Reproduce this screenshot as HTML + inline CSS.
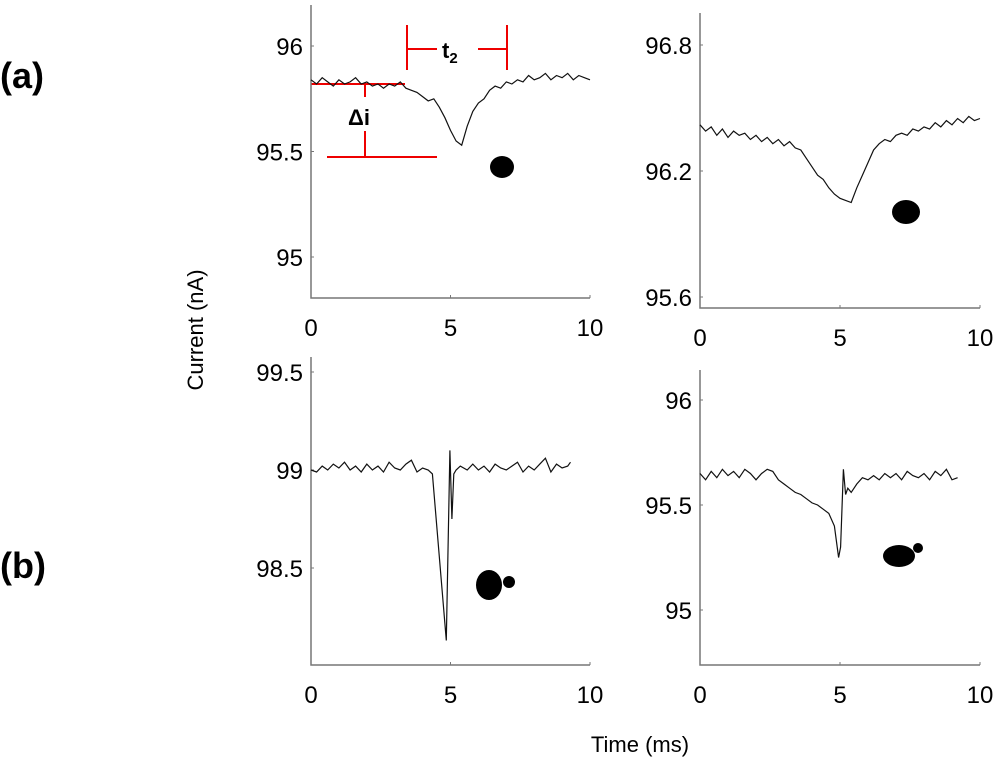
<!DOCTYPE html>
<html><head><meta charset="utf-8"><style>
body{margin:0;background:#fff}
svg{display:block;font-family:"Liberation Sans",sans-serif}
</style></head><body>
<svg id="fig" width="1000" height="774" viewBox="0 0 1000 774">
<text x="0" y="88" font-size="36" font-weight="bold">(a)</text>
<text x="0" y="578" font-size="36" font-weight="bold">(b)</text>
<text transform="translate(203,330) rotate(-90)" text-anchor="middle" font-size="22">Current (nA)</text>
<text x="640" y="752" text-anchor="middle" font-size="22">Time (ms)</text>
<g stroke="#e00" stroke-width="2">
<line x1="311" y1="84" x2="405" y2="84"/>
<line x1="365" y1="84" x2="365" y2="97"/>
<line x1="365" y1="131" x2="365" y2="157"/>
<line x1="327" y1="157" x2="437" y2="157"/>
<line x1="407" y1="25" x2="407" y2="70"/>
<line x1="507" y1="25" x2="507" y2="70"/>
<line x1="407" y1="49" x2="437" y2="49"/>
<line x1="478" y1="49" x2="507" y2="49"/>
</g>
<text x="348" y="125" font-size="22" font-weight="bold">Δi</text>
<text x="442" y="58" font-size="22" font-weight="bold">t<tspan font-size="15" dy="5">2</tspan></text>
<g fill="#000">
<ellipse cx="502" cy="167" rx="12" ry="11"/>
<ellipse cx="906" cy="212" rx="14" ry="12"/>
<ellipse cx="489" cy="585" rx="13" ry="15"/>
<circle cx="509" cy="582" r="6"/>
<ellipse cx="899" cy="556" rx="16" ry="11"/>
<circle cx="918" cy="548" r="5"/>
</g>
</svg>
<script>
const x1 = [0,0.2,0.4,0.6,0.8,1,1.2,1.4,1.6,1.8,2,2.2,2.4,2.6,2.8,3,3.2,3.4,3.6,3.8,4,4.2,4.4,4.6,4.8,5,5.2,5.4,5.6,5.8,6,6.2,6.4,6.6,6.8,7,7.2,7.4,7.6,7.8,8,8.2,8.4,8.6,8.8,9,9.2,9.4,9.6,9.8,10];
const y1 = [95.84,95.82,95.85,95.83,95.81,95.84,95.82,95.83,95.85,95.82,95.83,95.81,95.82,95.80,95.82,95.81,95.83,95.80,95.79,95.78,95.76,95.74,95.75,95.71,95.66,95.60,95.55,95.53,95.62,95.69,95.73,95.75,95.79,95.81,95.80,95.83,95.82,95.84,95.83,95.86,95.84,95.85,95.87,95.84,95.86,95.85,95.87,95.84,95.86,95.85,95.84];
const x2 = x1;
const y2 = [96.42,96.39,96.41,96.37,96.40,96.36,96.39,96.37,96.38,96.35,96.37,96.34,96.36,96.33,96.35,96.32,96.34,96.31,96.30,96.26,96.22,96.18,96.16,96.12,96.09,96.07,96.06,96.05,96.12,96.18,96.24,96.30,96.33,96.35,96.34,96.37,96.38,96.37,96.40,96.39,96.41,96.40,96.43,96.41,96.44,96.42,96.45,96.43,96.46,96.44,96.45];
const x3 = [0,0.2,0.4,0.6,0.8,1,1.2,1.4,1.6,1.8,2,2.2,2.4,2.6,2.8,3,3.2,3.4,3.6,3.8,4,4.2,4.35,4.85,4.98,5.05,5.12,5.2,5.35,5.6,5.8,6,6.2,6.4,6.6,6.8,7,7.2,7.4,7.6,7.8,8,8.2,8.4,8.6,8.8,9,9.2,9.3];
const y3 = [99.0,98.99,99.02,99.0,99.03,99.01,99.04,99.0,99.02,98.99,99.03,99.0,99.02,98.99,99.04,99.01,99.0,99.03,99.05,98.99,99.01,99.0,98.98,98.13,99.1,98.75,98.98,99.0,99.02,99.0,99.03,99.0,99.02,98.99,99.03,99.01,99.0,99.02,99.04,98.99,99.02,99.0,99.03,99.06,98.99,99.03,99.01,99.02,99.04];
const x4 = [0,0.2,0.4,0.6,0.8,1,1.2,1.4,1.6,1.8,2,2.2,2.4,2.6,2.8,3,3.2,3.4,3.6,3.8,4,4.2,4.4,4.6,4.8,4.95,5.02,5.12,5.2,5.28,5.4,5.6,5.8,6,6.2,6.4,6.6,6.8,7,7.2,7.4,7.6,7.8,8,8.2,8.4,8.6,8.8,9,9.2];
const y4 = [95.65,95.62,95.66,95.63,95.67,95.64,95.66,95.63,95.67,95.65,95.62,95.65,95.67,95.66,95.62,95.60,95.58,95.56,95.55,95.53,95.51,95.50,95.48,95.46,95.40,95.25,95.30,95.67,95.55,95.58,95.56,95.60,95.63,95.62,95.64,95.62,95.65,95.63,95.65,95.62,95.66,95.64,95.63,95.65,95.62,95.66,95.64,95.67,95.62,95.63];
const xTicks = [0,5,10];
const yTicks1 = [96,95.5,95];
const yTicks2 = [96.8,96.2,95.6];
const yTicks3 = [99.5,99,98.5];
const yTicks4 = [96,95.5,95];

const NS = 'http://www.w3.org/2000/svg';
const svg = document.getElementById('fig');
function mk(tag, attrs, parent){const e=document.createElementNS(NS,tag);for(const k in attrs)e.setAttribute(k,attrs[k]);(parent||svg).appendChild(e);return e;}

const panels = [
 {id:'panel-a1',L:311,R:590,T:5,B:298,y0:96,py0:46,y1v:95,py1:257,xs:x1,ys:y1,yt:yTicks1},
 {id:'panel-a2',L:700,R:980,T:13,B:308,y0:96.8,py0:45,y1v:95.6,py1:297,xs:x2,ys:y2,yt:yTicks2},
 {id:'panel-b1',L:311,R:590,T:357,B:665,y0:99.5,py0:372,y1v:98.5,py1:568,xs:x3,ys:y3,yt:yTicks3},
 {id:'panel-b2',L:700,R:980,T:370,B:665,y0:96,py0:400,y1v:95,py1:610,xs:x4,ys:y4,yt:yTicks4}
];
panels.forEach(p=>{
  const g = mk('g',{});
  
  
  const sx = v => p.L + (v/10)*(p.R-p.L);
  const sy = v => p.py0 + (v-p.y0)/(p.y1v-p.y0)*(p.py1-p.py0);
  const ax = mk('path',{d:`M${p.L},${p.T}V${p.B}H${p.R}`,fill:'none',stroke:'#777','stroke-width':1.5},g);
  
  
  xTicks.forEach(t=>{
    mk('line',{x1:sx(t),x2:sx(t),y1:p.B,y2:p.B-3,stroke:'#777'},g);
    const tx = mk('text',{x:sx(t),y:p.B+38,'text-anchor':'middle','font-size':24},g);
    
    
    tx.textContent = t;
  });
  p.yt.forEach(t=>{
    mk('line',{x1:p.L,x2:p.L+3,y1:sy(t),y2:sy(t),stroke:'#777'},g);
    const tx = mk('text',{x:p.L-8,y:sy(t)+9,'text-anchor':'end','font-size':24},g);
    
    
    tx.textContent = t;
  });
  const pts = p.xs.map((x,i)=>sx(x).toFixed(1)+','+sy(p.ys[i]).toFixed(1)).join(' ');
  const ln = mk('polyline',{points:pts,fill:'none',stroke:'#111','stroke-width':1.2},g);
  
  
});
</script>
</body></html>
